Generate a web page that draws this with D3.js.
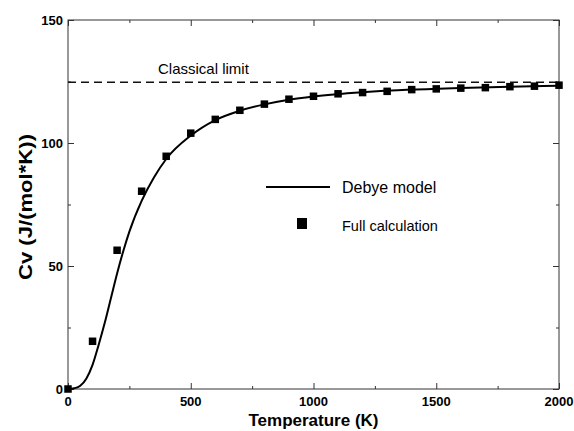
<!DOCTYPE html>
<html>
<head>
<meta charset="utf-8">
<script src="https://cdn.jsdelivr.net/npm/d3@7"></script>
<style>
  body { margin: 0; background: #fff; }
  svg { display: block; font-family: Arial, "Liberation Sans", Helvetica, sans-serif; }
</style>
</head>
<body>
<script>
// Full calculation points
const calcT = [0, 100, 200, 300, 400, 500, 600, 700, 800, 900, 1000,
    1100, 1200, 1300, 1400, 1500, 1600, 1700, 1800, 1900, 2000];
const calcCv = [0, 19.4, 56.4, 80.4, 94.6, 104, 109.6, 113.3, 115.8, 117.8, 119,
    120, 120.5, 121, 121.7, 122, 122.3, 122.5, 122.9, 123.1, 123.5];

// Debye model curve, sampled by eye
const debyeT = [0, 25, 50, 75, 100, 125, 150, 175, 200, 225, 250, 300, 350, 400,
    500, 600, 700, 800, 900, 1000, 1200, 1400, 1600, 1800, 2000];
const debyeCv = [0, 0.3, 1.3, 4.3, 9.8, 18, 27, 37, 47, 56, 64, 76.5, 86, 93.5,
    103, 109.3, 113.1, 115.7, 117.6, 118.9, 120.6, 121.7, 122.4, 122.9, 123.3];

const classicalLimit = 124.7;

const xTicks = [0, 500, 1000, 1500, 2000];
const xMinor = [250, 750, 1250, 1750];
const yTicks = [0, 50, 100, 150];
const yMinor = [25, 75, 125];

const width = 574, height = 431;
const margin = {left: 68, right: 15, top: 20, bottom: 42};

const svg = d3.select('body').append('svg')
    .attr('width', width)
    .attr('height', height);

const x = d3.scaleLinear().domain([0, 2000]).range([margin.left, width - margin.right]);
const y = d3.scaleLinear().domain([0, 150]).range([height - margin.bottom, margin.top]);

const axisColor = '#333';

// frame
svg.append('rect')
    .attr('x', x(0)).attr('y', y(150))
    .attr('width', x(2000) - x(0)).attr('height', y(0) - y(150))
    .attr('fill', 'none').attr('stroke', axisColor).attr('stroke-width', 1);

// inward ticks on all four sides
function ticks(axisGen, transform, vals, size) {
    svg.append('g')
        .attr('transform', transform)
        .call(axisGen.tickValues(vals).tickSize(size).tickFormat(''))
        .call(g => g.select('.domain').remove())
        .call(g => g.selectAll('line').attr('stroke', axisColor));
}
const bottomY = y(0), topY = y(150), leftX = x(0), rightX = x(2000);
ticks(d3.axisTop(x), `translate(0,${bottomY})`, xTicks, 6);
ticks(d3.axisTop(x), `translate(0,${bottomY})`, xMinor, 3);
ticks(d3.axisBottom(x), `translate(0,${topY})`, xTicks, 6);
ticks(d3.axisBottom(x), `translate(0,${topY})`, xMinor, 3);
ticks(d3.axisRight(y), `translate(${leftX},0)`, yTicks, 6);
ticks(d3.axisRight(y), `translate(${leftX},0)`, yMinor, 3);
ticks(d3.axisLeft(y), `translate(${rightX},0)`, yTicks, 6);
ticks(d3.axisLeft(y), `translate(${rightX},0)`, yMinor, 3);

// tick labels
svg.append('g').selectAll('text')
    .data(xTicks).enter().append('text')
    .attr('x', d => x(d)).attr('y', bottomY + 17)
    .attr('text-anchor', 'middle')
    .attr('font-size', 13).attr('font-weight', 'bold')
    .text(d => d);

svg.append('g').selectAll('text')
    .data(yTicks).enter().append('text')
    .attr('x', leftX - 5).attr('y', d => y(d) + 4.5)
    .attr('text-anchor', 'end')
    .attr('font-size', 13).attr('font-weight', 'bold')
    .text(d => d);

// axis titles
svg.append('text')
    .attr('x', (leftX + rightX) / 2).attr('y', 426)
    .attr('text-anchor', 'middle')
    .attr('font-size', 17).attr('font-weight', 'bold')
    .text('Temperature (K)');

svg.append('text')
    .attr('transform', `translate(32,207) rotate(-90)`)
    .attr('text-anchor', 'middle')
    .attr('font-size', 19).attr('font-weight', 'bold')
    .attr('textLength', 146).attr('lengthAdjust', 'spacingAndGlyphs')
    .text('Cv (J/(mol*K))');

// classical limit
svg.append('line')
    .attr('x1', x(0)).attr('x2', x(2000))
    .attr('y1', y(classicalLimit)).attr('y2', y(classicalLimit))
    .attr('stroke', '#111').attr('stroke-width', 1.5)
    .attr('stroke-dasharray', '8,5');

svg.append('text')
    .attr('x', 158).attr('y', y(classicalLimit) - 8)
    .attr('font-size', 15)
    .text('Classical limit');

// Debye curve
const debye = debyeT.map((t, i) => [t, debyeCv[i]]);
svg.append('path')
    .datum(debye)
    .attr('fill', 'none').attr('stroke', '#000').attr('stroke-width', 2)
    .attr('d', d3.line().x(d => x(d[0])).y(d => y(d[1])).curve(d3.curveMonotoneX));

// full calculation squares
const sq = 7.5;
svg.append('g').selectAll('rect')
    .data(calcT.map((t, i) => [t, calcCv[i]])).enter().append('rect')
    .attr('x', d => x(d[0]) - sq / 2).attr('y', d => y(d[1]) - sq / 2)
    .attr('width', sq).attr('height', sq)
    .attr('fill', '#000');

// legend
const legend = svg.append('g');
legend.append('line')
    .attr('x1', 266).attr('x2', 330).attr('y1', 187).attr('y2', 187)
    .attr('stroke', '#000').attr('stroke-width', 2);
legend.append('text')
    .attr('x', 342).attr('y', 193)
    .attr('font-size', 16)
    .text('Debye model');
legend.append('rect')
    .attr('x', 297).attr('y', 218).attr('width', 10).attr('height', 11)
    .attr('fill', '#000');
legend.append('text')
    .attr('x', 342).attr('y', 231)
    .attr('font-size', 14.5)
    .text('Full calculation');
</script>
</body>
</html>
